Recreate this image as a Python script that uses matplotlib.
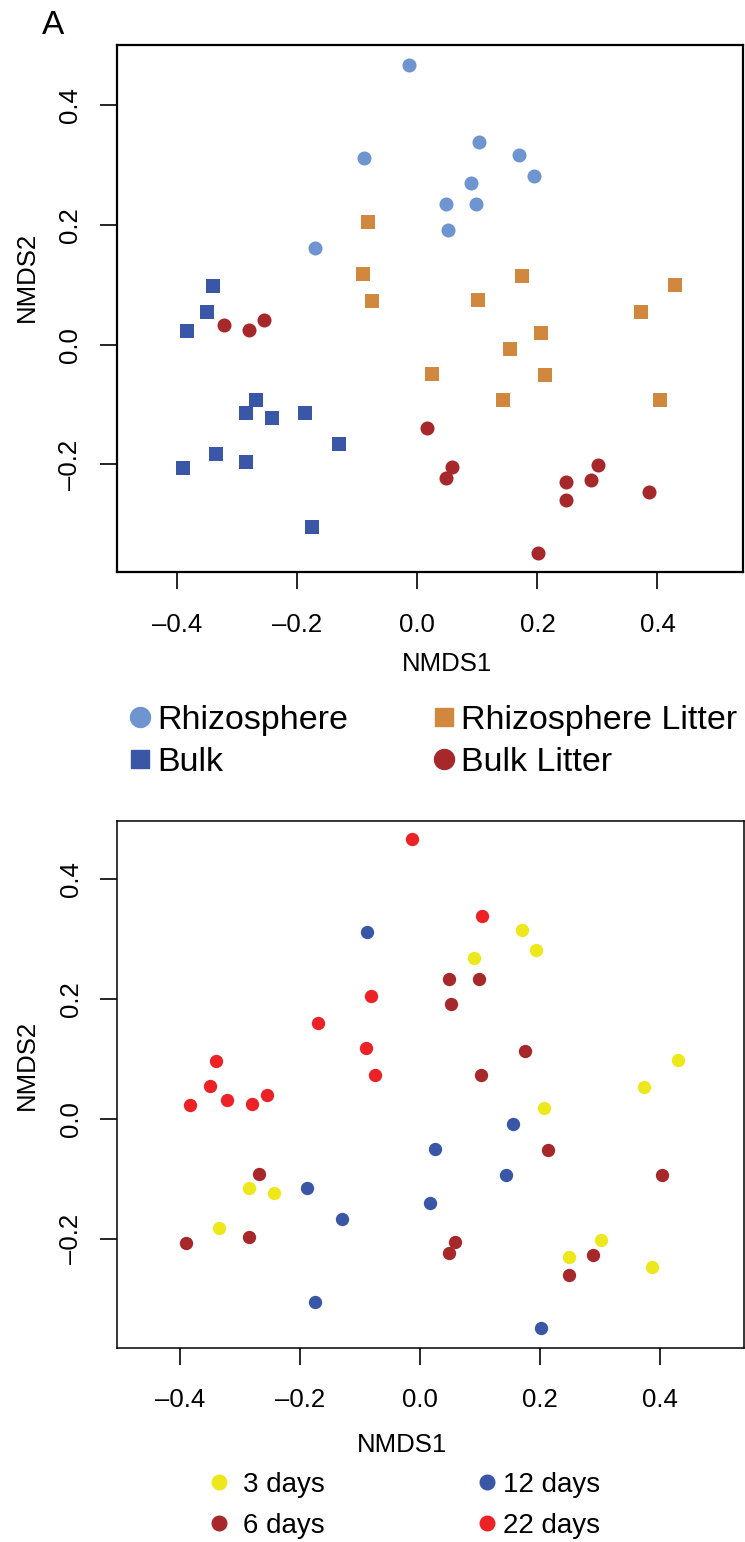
import matplotlib
matplotlib.use('Agg')
import matplotlib.pyplot as plt
from matplotlib.lines import Line2D

plt.rcParams['font.family'] = ['Liberation Sans', 'DejaVu Sans']

# NMDS scores (one entry per sample)
nmds1 = [-0.014, -0.089, 0.103, 0.169, 0.194, 0.090, 0.048, 0.098, 0.051, -0.171,
         -0.082, -0.091, -0.076, 0.175, 0.101, 0.430, 0.373, 0.206, 0.154, 0.024, 0.213, 0.143, 0.404,
         -0.341, -0.350, -0.384, -0.269, -0.286, -0.243, -0.188, -0.131, -0.336, -0.390, -0.285, -0.175,
         -0.322, -0.281, -0.256, 0.016, 0.058, 0.048, 0.248, 0.301, 0.289, 0.248, 0.386, 0.201]
nmds2 = [0.467, 0.312, 0.338, 0.316, 0.282, 0.269, 0.234, 0.234, 0.192, 0.161,
         0.205, 0.118, 0.073, 0.114, 0.074, 0.099, 0.054, 0.019, -0.008, -0.049, -0.051, -0.093, -0.093,
         0.097, 0.055, 0.023, -0.092, -0.114, -0.123, -0.114, -0.166, -0.182, -0.206, -0.196, -0.304,
         0.032, 0.025, 0.041, -0.139, -0.205, -0.223, -0.230, -0.201, -0.226, -0.260, -0.246, -0.348]
habitat = ['Rhizosphere'] * 10 + ['Rhizosphere Litter'] * 13 + ['Bulk'] * 12 + ['Bulk Litter'] * 12
days = [22, 12, 22, 3, 3, 3, 6, 6, 6, 22,
        22, 22, 22, 6, 6, 3, 3, 3, 12, 12, 6, 12, 6,
        22, 22, 22, 6, 3, 3, 12, 12, 3, 6, 6, 12,
        22, 22, 22, 12, 6, 6, 3, 3, 6, 6, 3, 12]

habitat_names = ['Rhizosphere', 'Bulk', 'Rhizosphere Litter', 'Bulk Litter']
habitat_colors = {'Rhizosphere': '#6F95D1', 'Bulk': '#3A56A6',
                  'Rhizosphere Litter': '#D2873E', 'Bulk Litter': '#A7282A'}
habitat_markers = {'Rhizosphere': 'o', 'Bulk': 's', 'Rhizosphere Litter': 's', 'Bulk Litter': 'o'}

day_values = [3, 6, 12, 22]
day_labels = ['3 days', '6 days', '12 days', '22 days']
day_colors = {3: '#EDE81C', 6: '#A7282A', 12: '#3A56A6', 22: '#EC2227'}

xticks = [-0.4, -0.2, 0.0, 0.2, 0.4]
yticks = [-0.2, 0.0, 0.2, 0.4]


def fmt(vals):
    return [('%.1f' % t).replace('-', '\u2013') for t in vals]


W, H = 745, 1542
fig = plt.figure(figsize=(W / 100, H / 100), dpi=100)


def ax_px(left, top, right, bottom):
    return fig.add_axes([left / W, 1 - bottom / H, (right - left) / W, (bottom - top) / H])


def style_axes(ax, lw, xlabel_pos, ylabel_pos):
    for s in ax.spines.values():
        s.set_linewidth(lw)
    ax.set_xticks(xticks)
    ax.set_xticklabels(fmt(xticks))
    ax.set_yticks(yticks)
    ax.set_yticklabels(fmt(yticks), rotation=90, va='center')
    ax.tick_params(direction='out', length=12, width=1.2, labelsize=18.5)
    ax.tick_params(axis='x', pad=17)
    ax.tick_params(axis='y', pad=13)
    ax.set_xlabel('NMDS1', fontsize=18.5)
    ax.set_ylabel('NMDS2', fontsize=18.5)
    ax.xaxis.set_label_coords(*xlabel_pos)
    ax.yaxis.set_label_coords(*ylabel_pos)


# ---- panel A: habitat ----
ax1 = ax_px(116.7, 45, 742.7, 572.3)
for h in habitat_names:
    xs = [x for x, g in zip(nmds1, habitat) if g == h]
    ys = [y for y, g in zip(nmds2, habitat) if g == h]
    size = 102 if habitat_markers[h] == 'o' else 88
    ax1.scatter(xs, ys, s=size, c=habitat_colors[h], marker=habitat_markers[h], linewidths=0)
style_axes(ax1, 1.6, (0.528, -0.151), (-0.125, 0.561))
ax1.set_xlim(-0.501, 0.542)
ax1.set_ylim(-0.380, 0.500)
fig.text(41.7 / W, 1 - 25 / H, 'A', fontsize=24, ha='left', va='center')


def make_legend(names, colors, markers, sizes, x_marker, y_mid, fs, pad, spacing):
    handles = [Line2D([], [], linestyle='none', marker=m, color=c, markersize=ms)
               for c, m, ms in zip(colors, markers, sizes)]
    fs_px = fs * 100 / 72
    leg = fig.legend(handles, names, loc='center left',
                     bbox_to_anchor=((x_marker - fs_px / 2) / W, 1 - y_mid / H),
                     frameon=False, borderpad=0, borderaxespad=0, handlelength=1.0,
                     handletextpad=pad, labelspacing=spacing, fontsize=fs, numpoints=1)
    return leg


col1 = ['Rhizosphere', 'Bulk']
col2 = ['Rhizosphere Litter', 'Bulk Litter']
for names, xm in [(col1, 140), (col2, 443.6)]:
    make_legend(names, [habitat_colors[n] for n in names], [habitat_markers[n] for n in names],
                [14.4 if habitat_markers[n] == 'o' else 13 for n in names],
                xm, 741.5, 24.5, 0.0, 0.34)

# ---- panel B: sampling time ----
ax2 = ax_px(117.3, 821, 744, 1347.7)
for d in day_values:
    xs = [x for x, v in zip(nmds1, days) if v == d]
    ys = [y for y, v in zip(nmds2, days) if v == d]
    ax2.scatter(xs, ys, s=92, c=day_colors[d], marker='o', linewidths=0)
style_axes(ax2, 1.1, (0.454, -0.162), (-0.125, 0.537))
ax2.set_xlim(-0.505, 0.540)
ax2.set_ylim(-0.381, 0.497)

make_legend(day_labels[:2], [day_colors[d] for d in day_values[:2]], ['o', 'o'], [10.5, 10.5],
            218.5, 1505.5, 20, 0.38, 0.55)
make_legend(day_labels[2:], [day_colors[d] for d in day_values[2:]], ['o', 'o'], [10.5, 10.5],
            486.8, 1505.5, 20, 0.08, 0.55)

fig.savefig('out.png', dpi=100)
